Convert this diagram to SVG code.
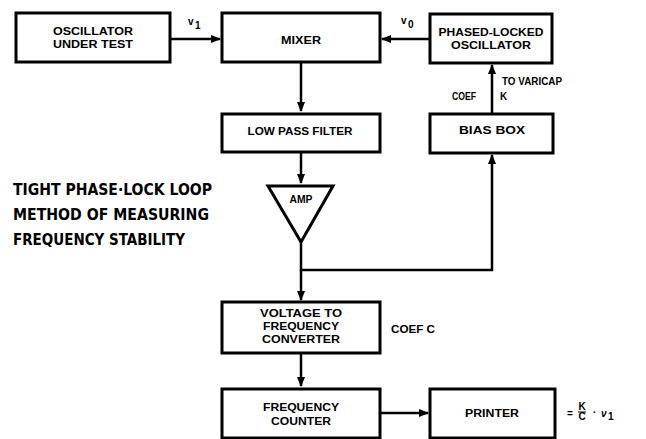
<svg xmlns="http://www.w3.org/2000/svg" width="646" height="439" viewBox="0 0 646 439">
<defs>
<marker id="ah" viewBox="0 0 10 10" refX="9" refY="5" markerWidth="4" markerHeight="4" orient="auto" markerUnits="strokeWidth">
<path d="M0,1 L10,5 L0,9 z" fill="#000"/>
</marker>
<style>
.box{fill:#fff;stroke:#000;stroke-width:3}
.lbl{font-family:"Liberation Sans",Arial,sans-serif;font-weight:bold;font-size:10px;fill:#000;text-anchor:middle}
.side{font-family:"Liberation Sans",Arial,sans-serif;font-weight:bold;font-size:10px;fill:#000}
.title{font-family:"DejaVu Sans Condensed","Liberation Sans",sans-serif;font-weight:bold;font-size:15px;fill:#000}
.con{fill:none;stroke:#000;stroke-width:2.5}
</style>
</defs>
<rect width="646" height="439" fill="#fff"/>
<g id="connectors">
<line class="con" x1="170" y1="39" x2="220" y2="39" marker-end="url(#ah)"/>
<line class="con" x1="430" y1="39" x2="382" y2="39" marker-end="url(#ah)"/>
<line class="con" x1="301" y1="63" x2="301" y2="111" marker-end="url(#ah)"/>
<line class="con" x1="301" y1="153" x2="301" y2="183" marker-end="url(#ah)"/>
<polyline class="con" points="301,242 301,270 492,270 492,155" marker-end="url(#ah)"/>
<line class="con" x1="301" y1="270" x2="301" y2="300" marker-end="url(#ah)"/>
<line class="con" x1="301" y1="354" x2="301" y2="386" marker-end="url(#ah)"/>
<line class="con" x1="381" y1="413" x2="428" y2="413" marker-end="url(#ah)"/>
<line class="con" x1="492" y1="113" x2="492" y2="65" marker-end="url(#ah)"/>
</g>
<g id="osc">
<rect class="box" x="16" y="13" width="154" height="49"/>
<text class="lbl" x="93" y="35" textLength="80" lengthAdjust="spacingAndGlyphs">OSCILLATOR</text>
<text class="lbl" x="93" y="48" textLength="80" lengthAdjust="spacingAndGlyphs">UNDER TEST</text>
</g>
<g id="mixer">
<rect class="box" x="222" y="13" width="158" height="49"/>
<text class="lbl" x="301" y="44" textLength="40" lengthAdjust="spacingAndGlyphs">MIXER</text>
</g>
<g id="plo">
<rect class="box" x="430" y="14" width="122" height="49"/>
<text class="lbl" x="491" y="36" textLength="105" lengthAdjust="spacingAndGlyphs">PHASED-LOCKED</text>
<text class="lbl" x="491" y="49" textLength="80" lengthAdjust="spacingAndGlyphs">OSCILLATOR</text>
</g>
<g id="lpf">
<rect class="box" x="222" y="114" width="158" height="38"/>
<text class="lbl" x="300" y="135" textLength="105" lengthAdjust="spacingAndGlyphs">LOW PASS FILTER</text>
</g>
<g id="bias">
<rect class="box" x="430" y="114" width="123" height="39"/>
<text class="lbl" x="492" y="134" textLength="66" lengthAdjust="spacingAndGlyphs">BIAS BOX</text>
</g>
<g id="amp">
<polygon points="268,186 333,186 301,242" fill="#fff" stroke="#000" stroke-width="3" stroke-linejoin="miter"/>
<text class="lbl" x="301" y="203" font-size="9" textLength="23" lengthAdjust="spacingAndGlyphs">AMP</text>
</g>
<g id="vfc">
<rect class="box" x="222" y="302" width="158" height="51"/>
<text class="lbl" x="301" y="317" textLength="82" lengthAdjust="spacingAndGlyphs">VOLTAGE TO</text>
<text class="lbl" x="301" y="330" textLength="76" lengthAdjust="spacingAndGlyphs">FREQUENCY</text>
<text class="lbl" x="301" y="343" textLength="78" lengthAdjust="spacingAndGlyphs">CONVERTER</text>
</g>
<g id="counter">
<rect class="box" x="222" y="389" width="158" height="49"/>
<text class="lbl" x="301" y="411" textLength="76" lengthAdjust="spacingAndGlyphs">FREQUENCY</text>
<text class="lbl" x="301" y="425" textLength="60" lengthAdjust="spacingAndGlyphs">COUNTER</text>
</g>
<g id="printer">
<rect class="box" x="430" y="389" width="125" height="49"/>
<text class="lbl" x="492" y="417" textLength="54" lengthAdjust="spacingAndGlyphs">PRINTER</text>
</g>
<g id="labels">
<text class="side" x="188" y="25">v</text><text class="side" x="195" y="29" font-size="8">1</text>
<text class="side" x="401" y="24">v</text><text class="side" x="408" y="28" font-size="9">0</text>
<text class="side" x="502" y="85" textLength="60" lengthAdjust="spacingAndGlyphs">TO VARICAP</text>
<text class="side" x="452" y="100" textLength="24" lengthAdjust="spacingAndGlyphs">COEF</text>
<text class="side" x="500" y="100">K</text>
<text class="side" x="391" y="333" textLength="44" lengthAdjust="spacingAndGlyphs">COEF C</text>
<text class="side" x="567" y="417">=</text>
<text class="side" x="582" y="410" font-size="8" text-anchor="middle">K</text>
<line x1="578" y1="412" x2="586" y2="412" stroke="#000" stroke-width="1"/>
<text class="side" x="582" y="420" font-size="8" text-anchor="middle">C</text>
<text class="side" x="593" y="416">·</text>
<text class="side" x="601" y="417" font-style="italic">ν</text><text class="side" x="608" y="420" font-size="8">1</text>
</g>
<g id="title">
<text class="title" x="13" y="195" textLength="199" lengthAdjust="spacingAndGlyphs">TIGHT PHASE·LOCK LOOP</text>
<text class="title" x="13" y="220" textLength="196" lengthAdjust="spacingAndGlyphs">METHOD OF MEASURING</text>
<text class="title" x="13" y="245" textLength="172" lengthAdjust="spacingAndGlyphs">FREQUENCY STABILITY</text>
</g>
</svg>
